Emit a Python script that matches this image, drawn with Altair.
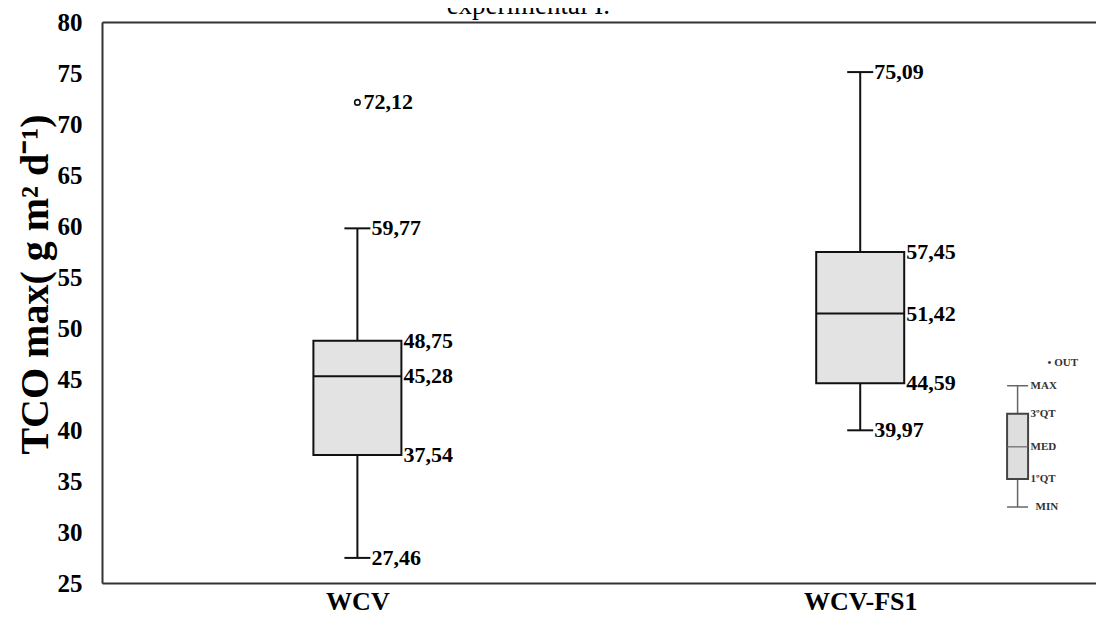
import altair as alt
import pandas as pd

# ---- data ----
groups = ["WCV", "WCV-FS1"]
group_pos = [0, 1]
mins = [27.46, 39.97]
q1s = [37.54, 44.59]
meds = [45.28, 51.42]
q3s = [48.75, 57.45]
maxs = [59.77, 75.09]

outlier_pos = [0]
outlier_vals = [72.12]

y_ticks = list(range(25, 81, 5))
x_domain = [-0.498, 1.459]

legend_pos = [1.313]
legend_keys = ["OUT", "MAX", "3ºQT", "MED", "1ºQT", "MIN"]
legend_vals = [46.6, 44.34, 41.59, 38.35, 35.2, 32.45]

title_text = ["experimental I."]
title_pos = [0.34]
title_val = [80.8]

SERIF = "Liberation Serif"


def fmt(v):
    return f"{v:.2f}".replace(".", ",")


boxes = pd.DataFrame({"group": groups, "pos": group_pos, "min": mins, "q1": q1s,
                      "med": meds, "q3": q3s, "max": maxs})
whiskers = pd.DataFrame({
    "pos": group_pos + group_pos,
    "lo": mins + q3s,
    "hi": q1s + maxs,
})
caps = pd.DataFrame({"pos": group_pos + group_pos, "v": mins + maxs})
box_labels = pd.DataFrame({
    "pos": group_pos * 3,
    "v": q1s + meds + q3s,
})
box_labels["label"] = box_labels["v"].map(fmt)
cap_labels = caps.copy()
cap_labels["label"] = cap_labels["v"].map(fmt)
outliers = pd.DataFrame({"pos": outlier_pos, "v": outlier_vals})
outliers["label"] = outliers["v"].map(fmt)

lv = dict(zip(legend_keys, legend_vals))
leg_box = pd.DataFrame({"pos": legend_pos, "q1": [lv["1ºQT"]], "med": [lv["MED"]],
                        "q3": [lv["3ºQT"]]})
leg_whisk = pd.DataFrame({"pos": legend_pos * 2, "lo": [lv["MIN"], lv["3ºQT"]],
                          "hi": [lv["1ºQT"], lv["MAX"]]})
leg_caps = pd.DataFrame({"pos": legend_pos * 2, "v": [lv["MIN"], lv["MAX"]]})
leg_labels = pd.DataFrame({"pos": legend_pos * len(legend_keys), "v": legend_vals,
                           "key": legend_keys})
leg_labels["label"] = [("•  " + k) if k == "OUT" else k for k in legend_keys]

title_df = pd.DataFrame({"pos": title_pos, "v": title_val, "label": title_text})

xscale = alt.Scale(domain=x_domain, nice=False, zero=False)
yscale = alt.Scale(domain=[25, 80], nice=False, zero=False)

yaxis = alt.Axis(values=y_ticks, ticks=False, grid=False, labelFont=SERIF,
                 labelFontWeight="bold", labelFontSize=25, labelColor="black",
                 labelPadding=20, domainColor="#333", domainWidth=2,
                 title="TCO max( g m² d⁻¹)", titleFont=SERIF, titleFontSize=40,
                 titleFontWeight="bold", titleColor="black", titlePadding=2,
                 titleY=262)


def X(axis=None):
    return alt.X("pos:Q", scale=xscale, axis=axis)


def Y(field):
    return alt.Y(f"{field}:Q", scale=yscale, axis=yaxis)


bottom_axis = alt.Axis(values=[0, 1], labelExpr="datum.value == 0 ? 'WCV' : (datum.value == 1 ? 'WCV-FS1' : '')",
                       ticks=False, grid=False, title=None, labelFont=SERIF,
                       labelFontWeight="bold", labelFontSize=26, labelColor="black",
                       labelPadding=5, domainColor="#333", domainWidth=2)
top_axis = alt.Axis(orient="top", labels=False, ticks=False, grid=False, title=None,
                    domainColor="#333", domainWidth=2)

whisk = alt.Chart(whiskers).mark_rule(color="#111", strokeWidth=2, opacity=1).encode(
    x=X(bottom_axis), y=Y("lo"), y2="hi")
cap = alt.Chart(caps).mark_tick(orient="horizontal", size=26, thickness=2, color="#111",
                                opacity=1).encode(x=X(top_axis), y=Y("v"))
box = alt.Chart(boxes).mark_bar(size=88, fill="#e3e3e3", stroke="#111", strokeWidth=2,
                                opacity=1).encode(x=X(), y=Y("q1"), y2="q3")
med = alt.Chart(boxes).mark_tick(orient="horizontal", size=88, thickness=2, color="#111",
                                 opacity=1).encode(x=X(), y=Y("med"))
out = alt.Chart(outliers).mark_point(shape="circle", size=30, filled=False, color="#111",
                                     strokeWidth=1.6, opacity=1).encode(x=X(), y=Y("v"))

text_kw = dict(font=SERIF, fontWeight="bold", fontSize=22, color="black",
               align="left", baseline="middle")
t_box = alt.Chart(box_labels).mark_text(dx=46, **text_kw).encode(x=X(), y=Y("v"), text="label:N")
t_cap = alt.Chart(cap_labels).mark_text(dx=14, **text_kw).encode(x=X(), y=Y("v"), text="label:N")
t_out = alt.Chart(outliers).mark_text(dx=6, **text_kw).encode(x=X(), y=Y("v"), text="label:N")

# legend (mini box plot)
l_whisk = alt.Chart(leg_whisk).mark_rule(color="#666", strokeWidth=1.5).encode(
    x=X(), y=Y("lo"), y2="hi")
l_cap = alt.Chart(leg_caps).mark_tick(orient="horizontal", size=21, thickness=1.5, color="#666",
                                      opacity=1).encode(x=X(), y=Y("v"))
l_box = alt.Chart(leg_box).mark_bar(size=21, fill="#dedede", stroke="#444", strokeWidth=2).encode(
    x=X(), y=Y("q1"), y2="q3")
l_med = alt.Chart(leg_box).mark_tick(orient="horizontal", size=21, thickness=1.2, color="#666",
                                     opacity=1).encode(x=X(), y=Y("med"))
leg_text_kw = dict(font=SERIF, fontWeight="bold", fontSize=11, color="#333",
                   align="left", baseline="middle")
l_t1 = alt.Chart(leg_labels).transform_filter(
    "datum.key != 'OUT' && datum.key != 'MIN'").mark_text(dx=13, **leg_text_kw).encode(
    x=X(), y=Y("v"), text="label:N")
l_t2 = alt.Chart(leg_labels).transform_filter("datum.key == 'MIN'").mark_text(
    dx=18, **leg_text_kw).encode(x=X(), y=Y("v"), text="label:N")
l_t3 = alt.Chart(leg_labels).transform_filter("datum.key == 'OUT'").mark_text(
    dx=30, **leg_text_kw).encode(x=X(), y=Y("v"), text="label:N")

# partly cut-off caption at the top, as in the reference
t_title = alt.Chart(title_df).mark_text(font=SERIF, fontSize=27, color="black",
                                        align="center", baseline="alphabetic").encode(
    x=X(), y=Y("v"), text="label:N")

chart = alt.layer(
    whisk, cap, box, med, out, t_box, t_cap, t_out,
    l_whisk, l_cap, l_box, l_med, l_t1, l_t2, l_t3, t_title,
).resolve_axis(x="independent").properties(
    width=994, height=561,
    padding={"left": 94, "top": 14, "right": 0, "bottom": 34},
    autosize=alt.AutoSizeParams(type="none"),
).configure_view(stroke=None).configure(background="white")

chart.save("out.html", embed_options={"renderer": "svg", "actions": False})
